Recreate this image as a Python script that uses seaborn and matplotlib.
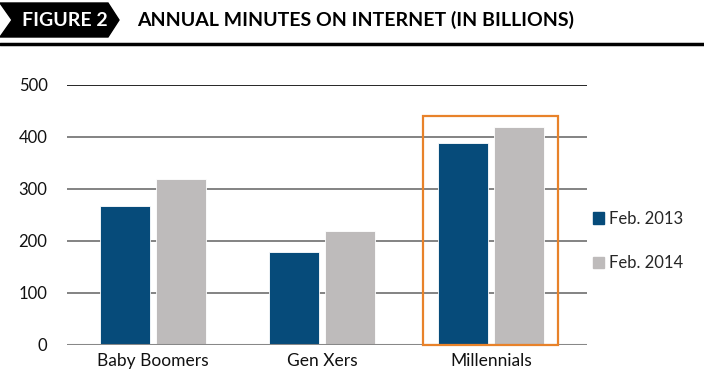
import matplotlib
matplotlib.use("Agg")
import matplotlib.pyplot as plt
import matplotlib.patches as mpatches
import seaborn as sns
import pandas as pd

# values (billions of minutes)
groups = ["Baby Boomers", "Gen Xers", "Millennials"]
feb_2013 = [267, 177, 387]
feb_2014 = [318, 218, 419]
series_names = ["Feb. 2013", "Feb. 2014"]
y_ticks = [0, 100, 200, 300, 400, 500]
highlight = "Millennials"

colors = ["#064B7A", "#BEBBBB"]

df = pd.DataFrame({
    "group": groups * 2,
    "minutes": feb_2013 + feb_2014,
    "period": [series_names[0]] * len(groups) + [series_names[1]] * len(groups),
})

sns.set_theme(style="white")
plt.rcParams["font.family"] = ["Lato", "DejaVu Sans"]

fig = plt.figure(figsize=(7.04, 3.8), dpi=100)
ax = fig.add_axes([67 / 704, 35.5 / 380, 520 / 704, 260 / 380])

sns.barplot(data=df, x="group", y="minutes", hue="period", palette=colors,
            saturation=1, width=0.66, gap=0.1, ax=ax, legend=False, zorder=3,
            edgecolor="white", linewidth=0.6)

ax.set_ylim(0, 500)
ax.set_xlim(-0.51, 2.57)
ax.set_yticks(y_ticks)
ax.yaxis.grid(True, color="#6E6E6E", linewidth=1.2, zorder=0)
ax.set_axisbelow(True)
for s in ["left", "right", "top", "bottom"]:
    ax.spines[s].set_visible(False)
ax.axhline(500, color="#222222", linewidth=1.3, zorder=1)
ax.axhline(0, color="#888888", linewidth=2.2, zorder=4)
ax.set_xlabel("")
ax.set_ylabel("")
ax.tick_params(axis="both", length=0, colors="#111111")
ax.tick_params(axis="y", pad=14, labelsize=12)
ax.tick_params(axis="x", pad=6, labelsize=12.5)

# orange box around the highlighted group
hi = groups.index(highlight)
top = max(feb_2013[hi], feb_2014[hi]) * 1.05
ax.add_patch(mpatches.Rectangle((hi - 0.4, 0), 0.8, top, fill=False,
                                edgecolor="#E8822A", linewidth=1.6, zorder=5,
                                clip_on=False))

handles = [mpatches.Patch(color=c, label=n) for c, n in zip(colors, series_names)]
fig.legend(handles=handles, loc="center left", bbox_to_anchor=(586 / 704, 1 - 241 / 380),
           frameon=False, fontsize=12, handlelength=0.65, handleheight=0.65,
           handletextpad=0.35, labelspacing=1.7, borderaxespad=0)

# header: black chevron banner, title and rule
banner = mpatches.Polygon([(0, 3), (108, 3), (119, 20), (108, 37), (0, 37), (12, 20)],
                          closed=True, color="black")
banner.set_transform(matplotlib.transforms.Affine2D().scale(1, -1).translate(0, 380))
fig.patches.append(banner)
fig.text(22 / 704, 1 - 20 / 380, "FIGURE 2", color="white", fontsize=14,
         fontweight="bold", va="center", ha="left")
fig.text(137 / 704, 1 - 20 / 380, "ANNUAL MINUTES ON INTERNET (IN BILLIONS)",
         color="black", fontsize=14, fontweight="bold", va="center", ha="left")
fig.add_artist(plt.Line2D([0, 1], [1 - 44 / 380, 1 - 44 / 380], color="black",
                          linewidth=2.5, transform=fig.transFigure))

fig.savefig("out.png", dpi=100)
